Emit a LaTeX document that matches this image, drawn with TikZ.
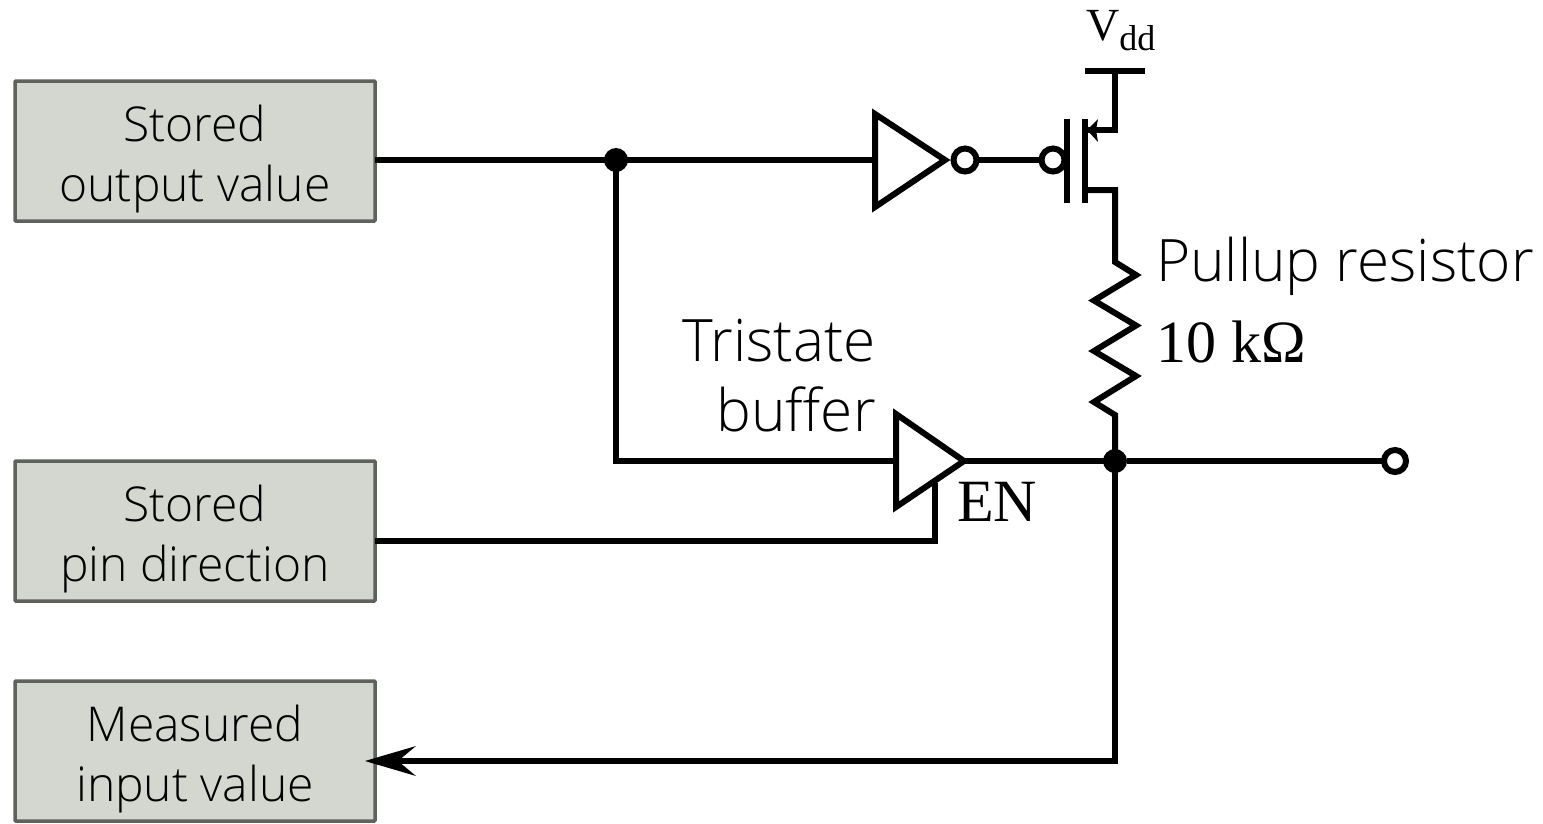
\documentclass[tikz,border=0pt]{standalone}
\usepackage{fontspec}
\setmainfont{Open Sans}[UprightFont={* Light}]
\newfontfamily\serifx{Liberation Serif}
\newcommand\topgap{\rule{0pt}{52pt}}
\usetikzlibrary{arrows.meta}
\tikzset{
  x=1pt,y=-1pt,
  wire/.style={line width=6pt,line cap=butt,line join=miter,miter limit=10},
  regbox/.style={draw=boxedge,fill=boxfill,line width=3.5pt,outer sep=0pt,minimum width=360pt,minimum height=140pt,inner sep=0pt,align=center,font=\fontsize{48}{60}\selectfont,anchor=north west,rounded corners=0.8pt},
  lbl/.style={inner sep=0pt,align=right,font=\fontsize{58.5}{70}\selectfont},
  serl/.style={inner sep=0pt,anchor=base west,font=\serifx\fontsize{60}{60}\selectfont},
  dotj/.style={circle,fill=black,inner sep=0pt,outer sep=0pt,minimum size=24pt},
  bubble/.style={circle,draw=black,fill=white,line width=6pt,inner sep=0pt,outer sep=0pt,minimum size=23pt},
  gate/.style={draw=black,line width=6pt,fill=white,line join=miter}
}
\definecolor{boxedge}{HTML}{5F615C}
\definecolor{boxfill}{HTML}{D3D7CF}
\begin{document}
\begin{tikzpicture}
\useasboundingbox (0,0) rectangle (1543,823);
\node[regbox] (out) at (15,81) {\topgap Stored\\output value};
\node[regbox] (dir) at (15,461) {\topgap Stored\\pin direction};
\node[regbox] (inp) at (15,681) {\topgap Measured\\input value};
\coordinate (j1) at (616,160);
\coordinate (j2) at (1115,461);
\coordinate (invin) at (875,160);
\coordinate (triin) at (896,461);
\coordinate (tritip) at (961,461);
\coordinate (en) at (935,483);
\coordinate (enc) at (935,541);
\coordinate (j1d) at (616,461);
\coordinate (inpc) at (1115,761);
\coordinate (srcc) at (1115,130);
\coordinate (src) at (1088,130);
\coordinate (vddn) at (1115,71);
\coordinate (drn) at (1085,190);
\coordinate (drnc) at (1115,190);
\coordinate (vl) at (1085,71);
\coordinate (vr) at (1145,71);
\coordinate (rtop) at (1115,262);
% wires
\draw[wire] (out.east |- j1) -- (j1) -- (invin);
\draw[wire] (j1) -- (j1d) -- (triin);
\draw[wire] (dir.east |- enc) -- (enc) -- (en);
\draw[wire] (tritip) -- (j2);
\draw[wire] (vl) -- (vr);
\draw[wire] (vddn) -- (srcc) -- (src);
\draw[wire] (drn) -- (drnc) -- (rtop)
  -- (1136,275) -- (1094,300.5) -- (1136,325.5) -- (1094,351) -- (1136,376) -- (1094,402) -- (1115,415) -- (j2);
\draw[wire] (j2) -- (inpc) -- (385,761);
\fill (365,761) -- (416,746) -- (398,761) -- (416,776) -- cycle;
% gates
\draw[gate] (875,114) -- (875,207) -- (945,160) -- cycle;
\draw[gate] (896,414) -- (896,507) -- (964,461) -- cycle;
\node[bubble] (invb) at (965,160) {};
\node[bubble] (gb) at (1053,160) {};
\draw[wire] (invb) -- (gb);
\draw[line width=6pt] (1067,119) -- (1067,203);
\draw[line width=6pt] (1085,119) -- (1085,203);
\fill (1087,130) -- (1098,119) -- (1096,130) -- (1098,142) -- cycle;
\node[dotj] (d1) at (j1) {};
\node[dotj] (d2) at (j2) {};
\node[bubble,minimum size=22pt] (pin) at (1395,461) {};
\draw[wire] (d2) -- (pin);
% labels
\node[lbl,anchor=east] (t1) at (876,376) {Tristate\\buffer};
\node[lbl,anchor=west] (t2) at (1156,266) {Pullup resistor};
\node[serl] (t3) at (1156,362) {10 k\char"03A9};
\node[serl] (t4) at (957,521) {EN};
\node[serl,font=\serifx\fontsize{46}{46}\selectfont] (t5) at (1086,40) {V\raisebox{-10pt}{\fontsize{36}{36}\selectfont dd}};
\end{tikzpicture}
\end{document}
